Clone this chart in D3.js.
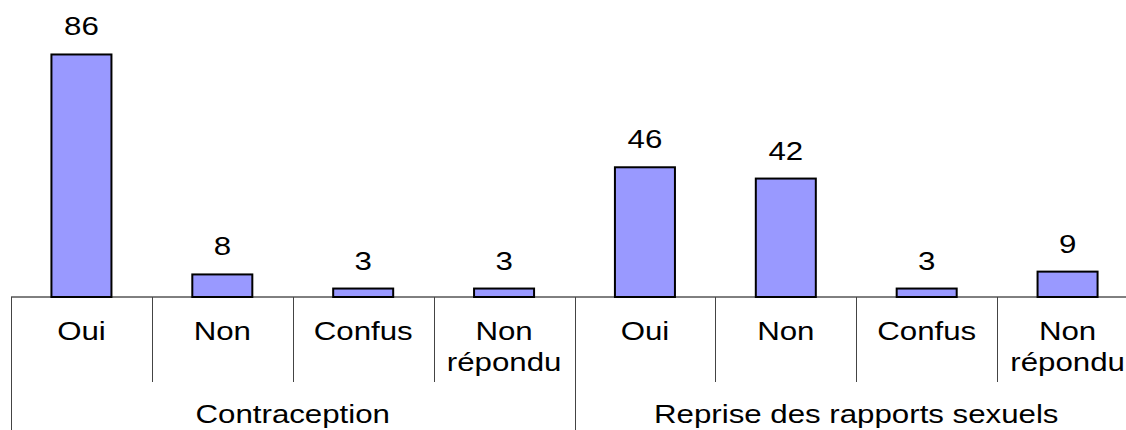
<!DOCTYPE html>
<html>
<head>
<meta charset="utf-8">
<script src="https://cdn.jsdelivr.net/npm/d3@7"></script>
<style>
  body { margin: 0; background: #fff; }
  svg { display: block; }
  text { font-family: "Liberation Sans", Arial, sans-serif; font-size: 25px; fill: #000; }
</style>
</head>
<body>
<div id="chart"></div>
<script>
// data
const groups = ["Contraception", "Reprise des rapports sexuels"];
const categories = ["Oui", "Non", "Confus", "Non répondu"];
const contraception = [86, 8, 3, 3];
const reprise = [46, 42, 3, 9];

let width = 1126, height = 430;
const baseY = 297, stretch = 1.25; // reference text looks stretched horizontally

const svg = d3.select("#chart").append("svg")
  .attr("width", width)
  .attr("height", height);

// flatten into rows
const rows = [];
[contraception, reprise].forEach((vals, gi) => {
  vals.forEach((v, ci) => rows.push({ group: groups[gi], cat: categories[ci], value: v, key: gi + "-" + ci }));
});

const x = d3.scaleBand()
  .domain(rows.map(d => d.key))
  .range([11, 1138]);

const y = d3.scaleLinear()
  .domain([0, 100])
  .range([baseY, 15]);

const barW = x.bandwidth() * 0.426;

// bars
svg.append("g")
  .selectAll("rect")
  .data(rows)
  .join("rect")
  .attr("x", d => x(d.key) + (x.bandwidth() - barW) / 2)
  .attr("y", d => y(d.value))
  .attr("width", barW)
  .attr("height", d => y(0) - y(d.value))
  .attr("fill", "#9999ff")
  .attr("stroke", "#000")
  .attr("stroke-width", 2);

// value labels
svg.append("g")
  .selectAll("text")
  .data(rows)
  .join("text")
  .attr("transform", d => `translate(${x(d.key) + x.bandwidth() / 2},${y(d.value) - 19}) scale(${stretch},1)`)
  .attr("text-anchor", "middle")
  .text(d => d.value);

// axis line
svg.append("line")
  .attr("x1", 11).attr("x2", width)
  .attr("y1", baseY).attr("y2", baseY)
  .attr("stroke", "#000");

// category separators (short) and group separators (long)
const nCat = categories.length;
svg.append("g")
  .selectAll("line")
  .data(d3.range(rows.length + 1))
  .join("line")
  .attr("x1", i => Math.round(x.range()[0] + i * x.step()) + 0.5)
  .attr("x2", i => Math.round(x.range()[0] + i * x.step()) + 0.5)
  .attr("y1", baseY)
  .attr("y2", i => i % nCat === 0 ? height : 382)
  .attr("stroke", "#444");

// category labels
const catLabels = svg.append("g")
  .selectAll("text")
  .data(rows)
  .join("text")
  .attr("transform", d => `translate(${x(d.key) + x.bandwidth() / 2},340) scale(${stretch},1)`)
  .attr("text-anchor", "middle");

catLabels.selectAll("tspan")
  .data(d => d.cat === "Non répondu" ? ["Non", "répondu"] : [d.cat])
  .join("tspan")
  .attr("x", 0)
  .attr("y", (d, i) => i * 31)
  .text(d => d);

// group labels
svg.append("g")
  .selectAll("text")
  .data(groups)
  .join("text")
  .attr("transform", (g, gi) => {
    const x0 = x(gi + "-0"), x1 = x(gi + "-" + (nCat - 1)) + x.bandwidth();
    return `translate(${(x0 + x1) / 2},423) scale(${stretch},1)`;
  })
  .attr("text-anchor", "middle")
  .text(d => d);
</script>
</body>
</html>
